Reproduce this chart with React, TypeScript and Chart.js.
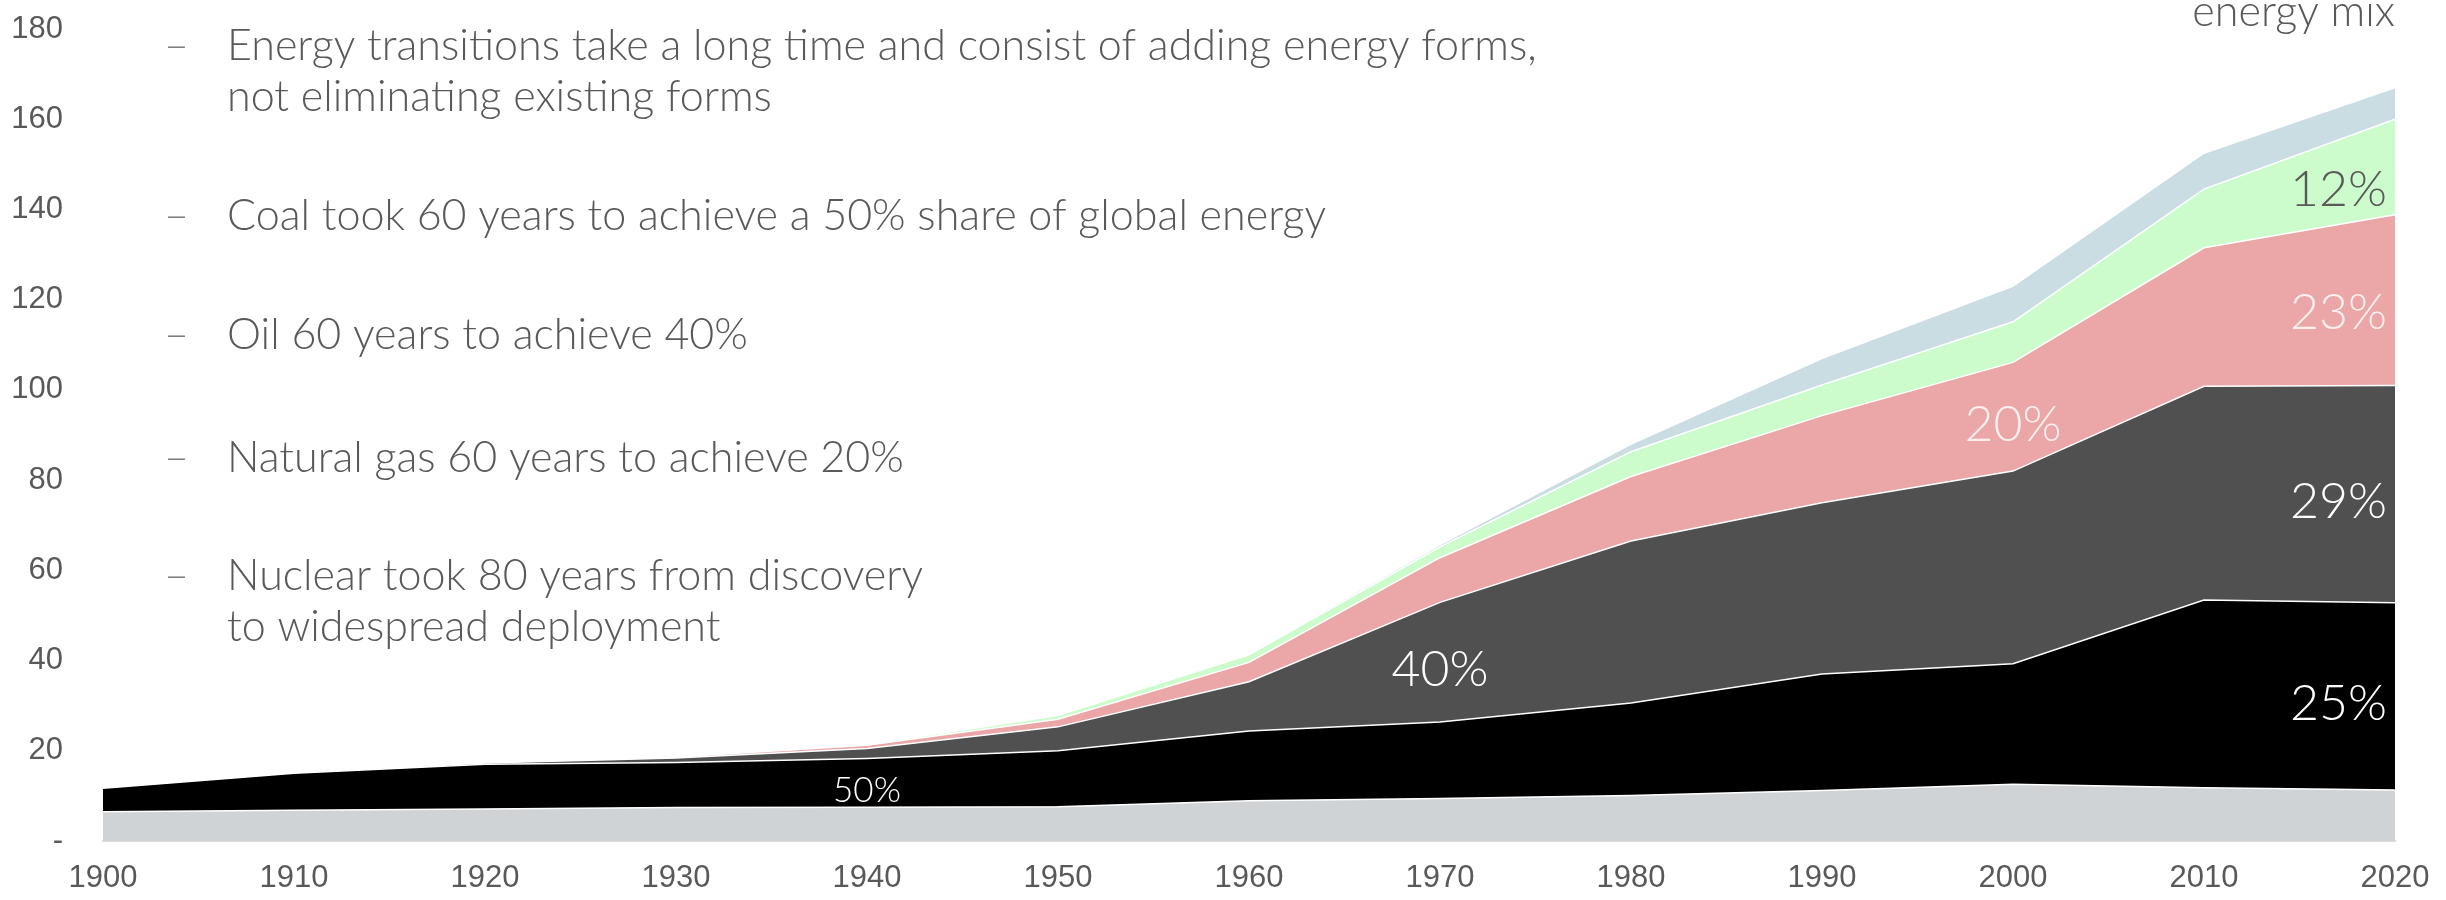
import React, { useEffect, useRef } from "react";
import { Chart, registerables } from "chart.js";

Chart.register(...registerables);

// ---- data ----
const years = ["1900", "1910", "1920", "1930", "1940", "1950", "1960", "1970", "1980", "1990", "2000", "2010", "2020"];
const yTickValues = [0, 20, 40, 60, 80, 100, 120, 140, 160, 180];
const biomass = [6.5, 6.8, 7.1, 7.4, 7.5, 7.6, 8.9, 9.4, 10.1, 11.2, 12.6, 11.8, 11.3];
const coal = [5.2, 8.2, 9.9, 10.0, 10.8, 12.4, 15.5, 17.0, 20.5, 25.8, 26.7, 41.6, 41.5];
const oil = [0, 0, 0.3, 1.0, 2.2, 5.3, 10.9, 26.5, 35.9, 38.0, 42.7, 47.4, 48.2];
const gas = [0, 0, 0, 0.2, 0.7, 1.7, 4.3, 9.9, 14.3, 19.3, 24.1, 30.7, 37.8];
const nuclearHydro = [0, 0, 0, 0, 0.2, 0.8, 1.7, 2.4, 5.5, 6.8, 9.0, 13.0, 21.2];
const renewables = [0, 0, 0, 0, 0, 0, 0.1, 0.3, 1.5, 5.7, 7.7, 7.8, 6.8];
const seriesNames = ["Biomass", "Coal", "Oil", "Natural gas", "Nuclear & hydro", "Renewables"];

const shareLabels = [
  { text: "50%", year: "1940", layer: 1 },
  { text: "40%", year: "1970", layer: 2 },
  { text: "20%", year: "2000", layer: 3 },
  { text: "12%", year: "2020", layer: 4 },
  { text: "23%", year: "2020", layer: 3 },
  { text: "29%", year: "2020", layer: 2 },
  { text: "25%", year: "2020", layer: 1 },
];

const bullets = [
  ["Energy transitions take a long time and consist of adding energy forms,", "not eliminating existing forms"],
  ["Coal took 60 years to achieve a 50% share of global energy"],
  ["Oil 60 years to achieve 40%"],
  ["Natural gas 60 years to achieve 20%"],
  ["Nuclear took 80 years from discovery", "to widespread deployment"],
];
const headerText = "energy mix";

// ---- styles ----
const layerColors = ["#cfd3d6", "#000000", "#505050", "#eba6a8", "#ccfccc", "#c9dde3"];
const labelColors: Record<number, string> = { 1: "#ffffff", 2: "#ffffff", 3: "#fbefef", 4: "#595959" };
const textGray = "#595959";
const lightFont = '"Lato", "Open Sans", sans-serif';
const tickFont = { family: '"Liberation Sans", Arial, sans-serif', size: 31 };
const bulletBaselines = [60, 230, 349, 472, 590];
const bulletLineGap = 51;

const layers = [biomass, coal, oil, gas, nuclearHydro, renewables];

function interp(arr: number[], f: number) {
  const i0 = Math.max(0, Math.min(arr.length - 1, Math.floor(f)));
  const i1 = Math.min(arr.length - 1, i0 + 1);
  const t = f - i0;
  return arr[i0] * (1 - t) + arr[i1] * t;
}

const overlayPlugin = {
  id: "overlay",
  afterDatasetsDraw(chart: any) {
    const { ctx, scales, chartArea } = chart;
    const xs = scales.x;
    const ys = scales.y;
    ctx.save();
    ctx.textBaseline = "middle";
    shareLabels.forEach((lab) => {
      const idx = years.indexOf(lab.year);
      const size = lab.layer === 1 && idx < years.length - 1 ? 35 : 50;
      ctx.font = `300 ${size}px ${lightFont}`;
      ctx.fillStyle = labelColors[lab.layer];
      let f = idx;
      let x;
      if (idx === years.length - 1) {
        ctx.textAlign = "right";
        x = chartArea.right - 8;
        const w = ctx.measureText(lab.text).width;
        const cx = x - w / 2;
        const px1 = xs.getPixelForValue(idx);
        const px0 = xs.getPixelForValue(idx - 1);
        f = idx - (px1 - cx) / (px1 - px0);
      } else {
        ctx.textAlign = "center";
        x = xs.getPixelForValue(idx);
      }
      let lower = 0;
      for (let l = 0; l < lab.layer; l++) lower += interp(layers[l], f);
      const upper = lower + interp(layers[lab.layer], f);
      const y = ys.getPixelForValue((lower + upper) / 2) + 8;
      ctx.fillText(lab.text, x, y);
    });
    ctx.restore();
  },
  afterDraw(chart: any) {
    const { ctx, chartArea } = chart;
    ctx.save();
    ctx.textBaseline = "alphabetic";
    ctx.font = `300 100px ${lightFont}`;
    const w100 = ctx.measureText(bullets[0][0]).width;
    const size = (100 * 1310) / w100;
    ctx.font = `300 ${size}px ${lightFont}`;
    ctx.fillStyle = textGray;
    ctx.textAlign = "left";
    bullets.forEach((lines, bi) => {
      const base = bulletBaselines[bi];
      ctx.fillStyle = "#7f7f7f";
      ctx.fillText("\u2013", 164, base);
      ctx.fillStyle = textGray;
      lines.forEach((line, li) => {
        ctx.fillText(line, 227, base + li * bulletLineGap);
      });
    });
    ctx.textAlign = "right";
    ctx.fillText(headerText, chartArea.right, 26);
    ctx.restore();
  },
};

export default function App() {
  const ref = useRef<HTMLCanvasElement | null>(null);

  useEffect(() => {
    document.body.style.margin = "0";
    document.body.style.overflow = "hidden";
    const canvas = ref.current;
    if (!canvas) return;
    const datasets = layers.map((data, i) => ({
      label: seriesNames[i],
      data,
      backgroundColor: layerColors[i],
      borderColor: i === layers.length - 1 ? "rgba(0,0,0,0)" : "#ffffff",
      borderWidth: i === layers.length - 1 ? 0 : 1.5,
      fill: i === 0 ? "origin" : "-1",
      pointRadius: 0,
      tension: 0,
    }));
    const chart = new Chart(canvas, {
      type: "line",
      data: { labels: years, datasets },
      options: {
        animation: false,
        responsive: false,
        layout: { padding: { top: 29, right: 51, left: 0, bottom: 0 } },
        plugins: { legend: { display: false }, tooltip: { enabled: false } },
        scales: {
          x: {
            grid: { display: false, drawTicks: false },
            border: { display: true, color: "#dedede", width: 2 },
            ticks: { font: tickFont, color: textGray, padding: 19, maxRotation: 0, autoSkip: false },
            afterFit: (s: any) => {
              s.height = 59;
              s.paddingLeft = 0;
              s.paddingRight = 0;
            },
          },
          y: {
            stacked: true,
            min: yTickValues[0],
            max: yTickValues[yTickValues.length - 1],
            grid: { display: false, drawTicks: false },
            border: { display: false },
            afterBuildTicks: (s: any) => {
              s.ticks = yTickValues.map((v) => ({ value: v }));
            },
            ticks: {
              font: tickFont,
              color: textGray,
              padding: 40,
              callback: (v: any) => (Number(v) === 0 ? "-" : String(v)),
            },
            afterFit: (s: any) => {
              s.width = 103;
              s.paddingTop = 0;
              s.paddingBottom = 0;
            },
          },
        },
      },
      plugins: [overlayPlugin],
    } as any);
    return () => chart.destroy();
  }, []);

  return <canvas ref={ref} width={2446} height={900} style={{ display: "block", width: 2446, height: 900 }} />;
}
